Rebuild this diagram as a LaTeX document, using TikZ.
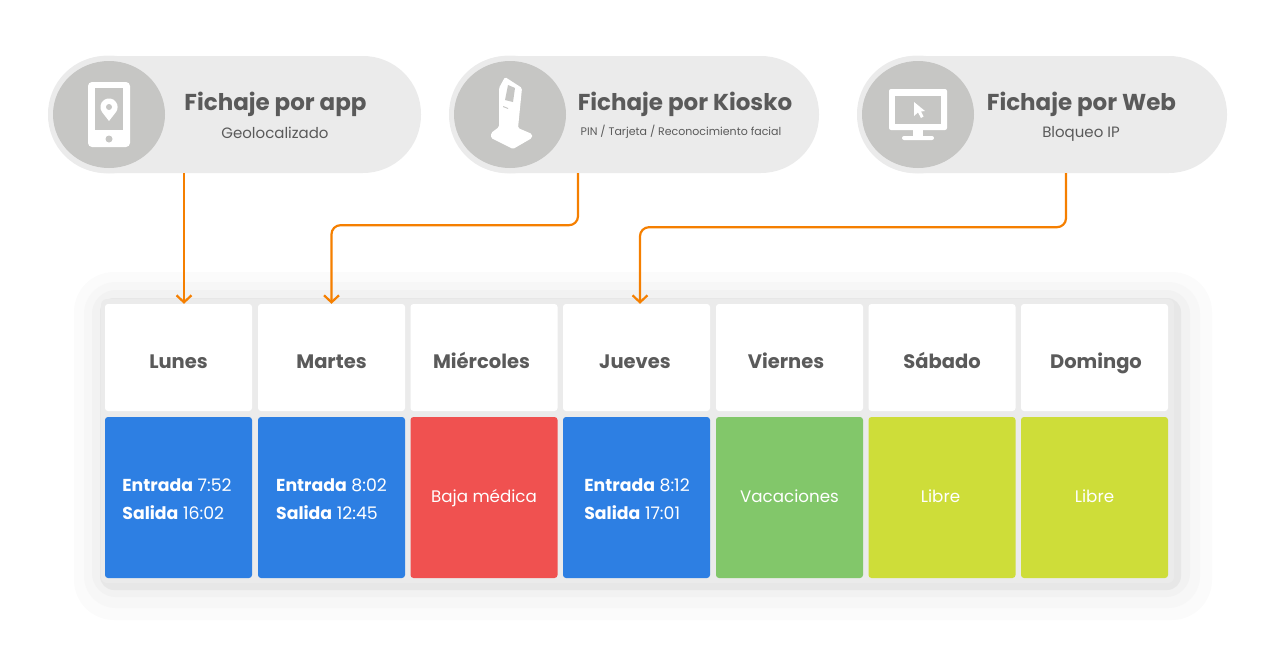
\documentclass[tikz,border=0pt]{standalone}
\usepackage{fontspec}
\setmainfont{Poppins}
\usetikzlibrary{arrows.meta,shapes.geometric}
\definecolor{pillgray}{HTML}{EBEBEB}
\definecolor{ringgray}{HTML}{EFEFEF}
\definecolor{circlegray}{HTML}{C6C6C4}
\definecolor{textgray}{HTML}{5A5A5A}
\definecolor{dayblue}{HTML}{2D7FE3}
\definecolor{dayred}{HTML}{F05150}
\definecolor{daygreen}{HTML}{82C76A}
\definecolor{daylime}{HTML}{CEDD39}
\definecolor{linkorange}{HTML}{F57F00}
\tikzset{
  pill/.style={fill=pillgray,rounded corners=58pt,minimum width=#1,minimum height=117pt,inner sep=0pt},
  ring/.style={ellipse,fill=ringgray,minimum width=121pt,minimum height=118pt,inner sep=0pt},
  disc/.style={ellipse,fill=circlegray,minimum width=112pt,minimum height=107pt,inner sep=0pt},
  title/.style={text=textgray,font=\fontsize{23}{27}\selectfont\bfseries},
  sub/.style={text=textgray,font=\fontsize{15}{18}\selectfont},
  cell/.style={rounded corners=3pt,minimum width=147pt,inner sep=0pt},
  daycell/.style={cell,fill=white,minimum height=107pt,text=textgray,text height=22pt,text depth=1pt,font=\fontsize{19.5}{23}\selectfont\bfseries},
  statecell/.style={cell,fill=#1,minimum height=161pt,text=white,text height=10pt,text depth=1pt,font=\fontsize{16.7}{20}\selectfont},
  entry/.style={align=left,text=white,inner sep=0pt,font=\fontsize{17.3}{28}\selectfont},
  link/.style={draw=linkorange,line width=2.2pt,rounded corners=9pt,-{Straight Barb[length=7pt,width=15pt,line width=2.2pt]}},
}
\begin{document}
\begin{tikzpicture}[x=1pt,y=-1pt]
  \useasboundingbox (0,0) rectangle (1280,648);
  % panel with its soft shadow
  \fill[white!98.5!black,rounded corners=40pt] (74,272) rectangle (1212,620);
  \fill[white!97!black,rounded corners=32pt] (84,282) rectangle (1200,608);
  \fill[white!95!black,rounded corners=24pt] (92,290) rectangle (1190,597);
  \fill[white!90.5!black,rounded corners=14pt] (100,298) rectangle (1181,590);
  \fill[pillgray,rounded corners=6pt] (101,299) rectangle (1174,583);
  % pills
  \node[ring] (ringapp) at (109,114.5) {};
  \node[pill=373pt] (pillapp) at (234.5,114.5) {};
  \node[disc] (discapp) at (109,114.5) {};
  \node[ring] (ringkiosko) at (510,114.5) {};
  \node[pill=370pt] (pillkiosko) at (634,114.5) {};
  \node[disc] (disckiosko) at (510,114.5) {};
  \node[ring] (ringweb) at (918,114.5) {};
  \node[pill=370pt] (pillweb) at (1042,114.5) {};
  \node[disc] (discweb) at (918,114.5) {};
  \node[title] (titleapp) at (275.5,104) {Fichaje por app};
  \node[sub] (subapp) at (275,133) {Geolocalizado};
  \node[title] (titlekiosko) at (685,104) {Fichaje por Kiosko};
  \node[sub,font=\fontsize{11}{13}\selectfont] (subkiosko) at (681,132) {PIN / Tarjeta / Reconocimiento facial};
  \node[title] (titleweb) at (1081.5,104) {Fichaje por Web};
  \node[sub] (subweb) at (1081,134) {Bloqueo IP};
  % phone
  \fill[white,rounded corners=4pt] (88,82) rectangle (130,147);
  \fill[circlegray] (95,88) rectangle (123,130);
  \fill[circlegray] (109,139) circle (3.5);
  \fill[white] (109,121) -- (102,112) arc (144.5:395.5:8.6) -- cycle;
  \fill[circlegray] (109,107) circle (3);
  % kiosk
  \fill[white,rounded corners=1.5pt] (505,77) -- (522,88) -- (518,128) -- (532,134) -- (532,138)
    -- (513,149) -- (491,138) -- (491,133) -- (499,127) -- (499,88) -- cycle;
  \fill[circlegray] (508,85) -- (515,88) -- (513,102) -- (505,100) -- cycle;
  \fill[circlegray] (503,106) -- (508,108) -- (508,109) -- (503,107) -- cycle;
  % monitor
  \fill[white,rounded corners=2pt] (889,89) rectangle (947,130);
  \fill[circlegray] (895,96) rectangle (941,124);
  \fill[white] (913,129) rectangle (923,137);
  \fill[white,rounded corners=2pt] (902,136) rectangle (934,140);
  \fill[white] (914,102) -- (914,116) -- (918,112.5) -- (921,118) -- (923.5,116.5) -- (921,111.5) -- (925,111) -- cycle;
  % days
  \node[daycell] (lunes) at (178.5,357.5) {Lunes};
  \node[daycell] (martes) at (331.5,357.5) {Martes};
  \node[daycell] (miercoles) at (484,357.5) {\hspace*{-5pt}Miércoles};
  \node[daycell] (jueves) at (636.5,357.5) {\hspace*{-3pt}Jueves};
  \node[daycell] (viernes) at (789.5,357.5) {\hspace*{-7pt}Viernes};
  \node[daycell] (sabado) at (942,357.5) {Sábado};
  \node[daycell] (domingo) at (1094.5,357.5) {\hspace*{3pt}Domingo};
  % states
  \node[statecell=dayblue] (statelunes) at (178.5,497.5) {};
  \node[statecell=dayblue] (statemartes) at (331.5,497.5) {};
  \node[statecell=dayred] (statemiercoles) at (484,497.5) {Baja médica};
  \node[statecell=dayblue] (statejueves) at (636.5,497.5) {};
  \node[statecell=daygreen] (stateviernes) at (789.5,497.5) {Vacaciones};
  \node[statecell=daylime] (statesabado) at (942,497.5) {\hspace*{-3pt}Libre};
  \node[statecell=daylime] (statedomingo) at (1094.5,497.5) {Libre};
  \node[entry] (entrylunes) at (177,499) {\textbf{Entrada} 7:52\\\textbf{Salida} 16:02};
  \node[entry] (entrymartes) at (331.5,499) {\textbf{Entrada} 8:02\\\textbf{Salida} 12:45};
  \node[entry] (entryjueves) at (637,499) {\textbf{Entrada} 8:12\\\textbf{Salida} 17:01};
  % links
  \draw[link] ([xshift=-50.5pt]pillapp.south) -- ([xshift=5.5pt]lunes.north);
  \draw[link] ([xshift=-56pt]pillkiosko.south) -- ++(0,52) -| (martes.north);
  \draw[link] ([xshift=24pt]pillweb.south) -- ++(0,54) -| ([xshift=3.5pt]jueves.north);
\end{tikzpicture}
\end{document}
